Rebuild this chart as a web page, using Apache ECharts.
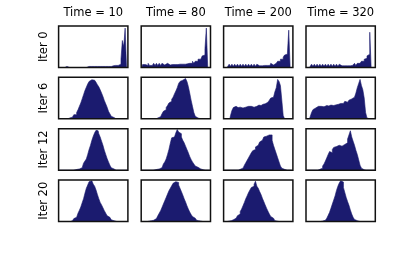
<!DOCTYPE html>
<html>
<head>
<meta charset="utf-8">
<script src="https://cdn.jsdelivr.net/npm/echarts@6/dist/echarts.min.js"></script>
<style>html,body{margin:0;padding:0;background:#fff;}#c{width:415px;height:265px;}</style>
</head>
<body>
<div id="c"></div>
<script>
// Bin indices (50 histogram bins)
var bins = [0,1,2,3,4,5,6,7,8,9,10,11,12,13,14,15,16,17,18,19,20,21,22,23,24,25,26,27,28,29,30,31,32,33,34,35,36,37,38,39,40,41,42,43,44,45,46,47,48,49];
var columnTitles = ['Time = 10', 'Time = 80', 'Time = 200', 'Time = 320'];
var rowTitles = ['Iter 0', 'Iter 6', 'Iter 12', 'Iter 20'];

// Relative bin heights (max ~1)
var iter0_t10 = [0,0,0,0,0,0,0.025,0,0.025,0, 0.025,0,0.025,0,0.025,0,0.025,0,0.025,0, 0.025,0.025,0,0.025,0.025,0.025,0.025,0.025,0.025,0.025, 0.025,0.025,0.025,0.025,0.025,0.025,0.025,0.025,0.025,0.04, 0.05,0.04,0.05,0.05,0.08,0.2,0.65,0.5,0.95,0];
var iter0_t80 = [0,0.07,0.07,0.05,0.05,0.1,0.05,0.05,0.05,0.1, 0.05,0.1,0.05,0.1,0.05,0.1,0.06,0.06,0.1,0.06, 0.06,0.07,0.07,0.07,0.07,0.07,0.07,0.08,0.08,0.08, 0.08,0.08,0.08,0.09,0.09,0.1,0.1,0.15,0.1,0.15, 0.15,0.2,0.2,0.2,0.28,0.3,0.45,0.95,0,0];
var iter0_t200 = [0,0,0,0,0.08,0.03,0.08,0.03,0.08,0.03, 0.08,0.03,0.08,0.03,0.08,0.03,0.08,0.03,0.08,0.03, 0.08,0.03,0.08,0.03,0.08,0.04,0.04,0.04,0.04,0.05, 0.05,0.05,0.05,0.05,0.1,0.06,0.1,0.1,0.12,0.15, 0.15,0.2,0.2,0.25,0.3,0.32,0.35,0.9,0,0];
var iter0_t320 = [0,0,0,0,0.08,0.03,0.08,0.03,0.08,0.03, 0.08,0.03,0.08,0.03,0.08,0.03,0.08,0.03,0.08,0.03, 0.08,0.03,0.08,0.03,0.08,0.04,0.04,0.04,0.04,0.04, 0.04,0.04,0.04,0.05,0.05,0.1,0.05,0.1,0.1,0.12, 0.15,0.15,0.2,0.22,0.28,0.32,0.85,0,0,0];

var iter6_t10 = [0,0,0,0,0,0,0,0,0.02,0.04, 0.07,0.1,0.1,0.15,0.22,0.3,0.38,0.48,0.58,0.68, 0.76,0.84,0.9,0.94,0.97,0.93,0.9,0.88,0.82,0.77, 0.7,0.62,0.54,0.44,0.36,0.28,0.18,0.12,0.06,0.03, 0.01,0,0,0,0,0,0,0,0,0];
var iter6_t80 = [0,0,0,0,0,0,0,0,0,0, 0,0,0.02,0.05,0.08,0.12,0.18,0.22,0.27,0.32, 0.38,0.42,0.47,0.52,0.6,0.67,0.75,0.85,0.9,0.93, 0.95,0.97,0.94,0.9,0.78,0.62,0.45,0.3,0.15,0.06, 0.02,0,0,0,0,0,0,0,0,0];
var iter6_t200 = [0,0,0,0,0,0.08,0.2,0.27,0.3,0.28, 0.27,0.28,0.28,0.26,0.27,0.28,0.29,0.3,0.31,0.3, 0.29,0.28,0.28,0.3,0.32,0.33,0.32,0.34,0.35,0.36, 0.37,0.4,0.42,0.45,0.5,0.52,0.55,0.65,0.75,0.95, 0.9,0.8,0.45,0.08,0,0,0,0,0,0];
var iter6_t320 = [0,0,0,0.05,0.15,0.22,0.26,0.28,0.3,0.29, 0.3,0.31,0.29,0.3,0.32,0.3,0.31,0.33,0.3,0.32, 0.33,0.34,0.36,0.35,0.37,0.38,0.37,0.4,0.42,0.4, 0.43,0.45,0.48,0.5,0.52,0.55,0.62,0.75,0.85,0.95, 0.8,0.7,0.5,0.15,0.02,0,0,0,0,0];

var iter12_t10 = [0,0,0,0,0,0,0,0,0,0, 0,0.01,0.02,0.02,0.03,0.04,0.06,0.1,0.17,0.22, 0.27,0.38,0.5,0.6,0.72,0.82,0.9,0.96,0.95,0.88, 0.8,0.7,0.6,0.48,0.38,0.28,0.2,0.12,0.06,0.03, 0.01,0,0,0,0,0,0,0,0,0];
var iter12_t80 = [0,0,0,0,0,0,0,0,0,0, 0.01,0.02,0.03,0.04,0.06,0.1,0.15,0.2,0.27,0.38, 0.5,0.65,0.78,0.8,0.82,0.9,0.98,0.92,0.88,0.8, 0.72,0.66,0.58,0.5,0.42,0.33,0.26,0.2,0.15,0.1, 0.07,0.05,0.03,0.02,0.01,0,0,0,0,0];
var iter12_t200 = [0,0,0,0,0,0,0,0,0,0, 0,0,0.02,0.05,0.08,0.12,0.18,0.24,0.3,0.36, 0.42,0.47,0.5,0.56,0.6,0.62,0.68,0.72,0.75,0.8, 0.82,0.83,0.85,0.88,0.85,0.72,0.6,0.5,0.4,0.3, 0.2,0.1,0.05,0.02,0,0,0,0,0,0];
var iter12_t320 = [0,0,0,0,0,0,0,0,0,0, 0.02,0.05,0.1,0.15,0.22,0.3,0.38,0.45,0.42,0.5, 0.55,0.57,0.55,0.6,0.62,0.58,0.6,0.62,0.63,0.66, 0.75,0.85,0.95,0.8,0.7,0.6,0.48,0.38,0.25,0.12, 0.05,0.01,0,0,0,0,0,0,0,0];

var iter20_t10 = [0,0,0,0,0,0,0,0,0,0.02, 0.04,0.07,0.1,0.14,0.2,0.27,0.35,0.45,0.55,0.68, 0.8,0.88,0.96,0.98,0.94,0.9,0.85,0.76,0.65,0.55, 0.46,0.4,0.33,0.26,0.2,0.14,0.1,0.07,0.04,0.02, 0.01,0,0,0,0,0,0,0,0,0];
var iter20_t80 = [0,0,0,0,0,0,0.01,0.02,0.03,0.05, 0.07,0.1,0.14,0.2,0.26,0.34,0.42,0.5,0.58,0.66, 0.74,0.8,0.86,0.92,0.96,0.98,0.94,0.88,0.8,0.72, 0.64,0.55,0.47,0.38,0.3,0.23,0.17,0.12,0.08,0.05, 0.03,0.02,0.01,0,0,0,0,0,0,0];
var iter20_t200 = [0,0,0,0,0.01,0.02,0.04,0.06,0.08,0.1, 0.14,0.18,0.24,0.3,0.38,0.46,0.55,0.62,0.7,0.76, 0.82,0.85,0.9,0.97,0.85,0.8,0.72,0.65,0.56,0.48, 0.4,0.32,0.25,0.18,0.12,0.08,0.05,0.02,0.01,0, 0,0,0,0,0,0,0,0,0,0];
var iter20_t320 = [0,0,0,0,0,0,0,0,0,0, 0,0,0.01,0.03,0.05,0.08,0.15,0.22,0.32,0.42, 0.52,0.62,0.75,0.85,0.93,0.98,0.95,0.82,0.7,0.58, 0.48,0.39,0.28,0.18,0.1,0.05,0.02,0,0,0, 0,0,0,0,0,0,0,0,0,0];

var panels = [
  [iter0_t10, iter0_t80, iter0_t200, iter0_t320],
  [iter6_t10, iter6_t80, iter6_t200, iter6_t320],
  [iter12_t10, iter12_t80, iter12_t200, iter12_t320],
  [iter20_t10, iter20_t80, iter20_t200, iter20_t320]
];

// Layout
var colLeft = [58.6, 141.2, 223.6, 306];
var rowTop = [26, 77.3, 128.7, 180];
var panelW = 69.3, panelH = 41.5;
var font = "'DejaVu Sans', sans-serif";
var barColor = '#1b1b6f';

var grids = [], xAxes = [], yAxes = [], series = [], graphics = [];
for (var r = 0; r < 4; r++) {
  for (var c = 0; c < 4; c++) {
    var k = r * 4 + c;
    grids.push({left: colLeft[c], top: rowTop[r], width: panelW, height: panelH,
      show: true, borderColor: '#111', borderWidth: 1.5, backgroundColor: 'transparent', z: 5});
    xAxes.push({type: 'category', gridIndex: k, data: bins, show: false, boundaryGap: true});
    yAxes.push({type: 'value', gridIndex: k, min: 0, max: 1, show: false});
    // Histogram drawn as a filled step outline (bin edges at category midpoints)
    series.push({type: 'line', step: 'middle', xAxisIndex: k, yAxisIndex: k, data: panels[r][c],
      symbol: 'none', silent: true, animation: false,
      lineStyle: {color: barColor, width: 0.6},
      areaStyle: {color: barColor, opacity: 1}});
  }
}
for (var c2 = 0; c2 < 4; c2++) {
  graphics.push({type: 'text', x: colLeft[c2] + panelW / 2, y: 13.5,
    style: {text: columnTitles[c2], font: '11.5px ' + font, fill: '#000',
      textAlign: 'center', textVerticalAlign: 'middle'}});
}
for (var r2 = 0; r2 < 4; r2++) {
  graphics.push({type: 'text', x: 44.5, y: rowTop[r2] + panelH / 2, rotation: Math.PI / 2,
    style: {text: rowTitles[r2], font: '11.5px ' + font, fill: '#000',
      textAlign: 'center', textVerticalAlign: 'middle'}});
}

var chart = echarts.init(document.getElementById('c'), null, {renderer: 'canvas'});
chart.setOption({
  animation: false,
  backgroundColor: '#fff',
  grid: grids, xAxis: xAxes, yAxis: yAxes, series: series, graphic: graphics
});
</script>
</body>
</html>
